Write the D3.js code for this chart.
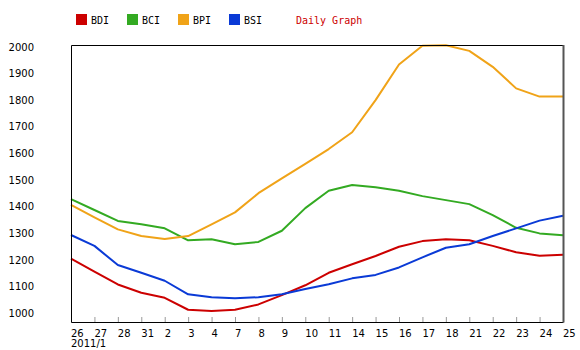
<!DOCTYPE html>
<html><head><meta charset="utf-8">
<script src="https://cdn.jsdelivr.net/npm/d3@7"></script>
<style>body{margin:0;background:#fff}</style>
</head><body>
<svg id="c" width="580" height="350"></svg>
<script>
const categories = ["26","27","28","31","2","3","4","7","8","9","10","11","14","15","16","17","18","21","22","23","24","25"];
const BDI = [1205,1156,1108,1077,1058,1013,1008,1013,1033,1068,1105,1152,1184,1215,1250,1271,1278,1274,1253,1229,1216,1220];
const BCI = [1429,1388,1347,1334,1319,1274,1278,1259,1268,1310,1395,1460,1482,1473,1460,1440,1425,1410,1369,1321,1300,1293];
const BPI = [1407,1360,1315,1290,1279,1290,1334,1379,1451,1507,1561,1617,1680,1801,1935,2005,2007,1986,1926,1845,1814,1814];
const BSI = [1294,1253,1181,1152,1122,1071,1060,1056,1060,1071,1091,1109,1131,1144,1172,1210,1246,1259,1290,1319,1348,1366];
const yTicks = [1000,1100,1200,1300,1400,1500,1600,1700,1800,1900,2000];
const seriesNames = ["BDI","BCI","BPI","BSI"];
const colors = ["#cc0000","#33aa22","#f0a318","#0a3ad6"];
const subLabel = "2011/1";
const title = "Daily Graph";

const svg = d3.select("#c");
const L=71, R=563, T=45, B=322;
const x = d3.scalePoint().domain(categories).range([L,R]);
const y = d3.scaleLinear().domain([967,2008]).range([B,T]);
const data = [BDI,BCI,BPI,BSI];

// tick marks (inside)
svg.append("g").selectAll("line").data(categories.slice(1,-1)).join("line")
  .attr("x1",d=>x(d)+0.5).attr("x2",d=>x(d)+0.5).attr("y1",B-5).attr("y2",B)
  .attr("stroke","#999").attr("stroke-width",1);

// lines
const line = d3.line().x((d,i)=>x(categories[i])).y(d=>y(d));
data.forEach((s,k)=>{
  svg.append("path").datum(s).attr("d",line).attr("fill","none")
    .attr("stroke",colors[k]).attr("stroke-width",2).attr("stroke-linejoin","round");
});

// frame
svg.append("path").attr("d",`M${L+0.5},${T+0.5}H${R+0.5}`).attr("stroke","#000").attr("fill","none");
svg.append("path").attr("d",`M${L+0.5},${T+0.5}V${B+0.5}H${R+0.5}`).attr("stroke","#000").attr("fill","none");
svg.append("path").attr("d",`M${R+0.5},${T}V${B+0.5}`).attr("stroke","#555").attr("stroke-width",2).attr("fill","none");

// y labels
svg.append("g").selectAll("text").data(yTicks).join("text")
  .attr("x",34).attr("y",d=>y(d)).attr("dy","0.35em").attr("text-anchor","end")
  .attr("font-family","DejaVu Sans").attr("font-size",10).attr("fill","#000").text(d=>d);

// x labels
svg.append("g").selectAll("text").data(categories).join("text")
  .attr("x",d=>x(d)).attr("y",333).attr("dy","0.35em").attr("text-anchor","start")
  .attr("font-family","DejaVu Sans").attr("font-size",10).attr("fill","#000").text(d=>d);
svg.append("text").attr("x",x(categories[0])).attr("y",343).attr("dy","0.35em")
  .attr("font-family","DejaVu Sans").attr("font-size",10).text(subLabel);

// legend
const lg = svg.append("g");
seriesNames.forEach((n,i)=>{
  const lx = 76 + i*51;
  lg.append("rect").attr("x",lx).attr("y",14).attr("width",11).attr("height",11).attr("fill",colors[i]);
  lg.append("text").attr("x",lx+15).attr("y",20).attr("dy","0.35em")
    .attr("font-family","DejaVu Sans Mono").attr("font-size",10).attr("fill","#000").text(n);
});
lg.append("text").attr("x",296).attr("y",20).attr("dy","0.35em")
  .attr("font-family","DejaVu Sans Mono").attr("font-size",10).attr("fill","#cc0000").text(title);
</script>
</body></html>
